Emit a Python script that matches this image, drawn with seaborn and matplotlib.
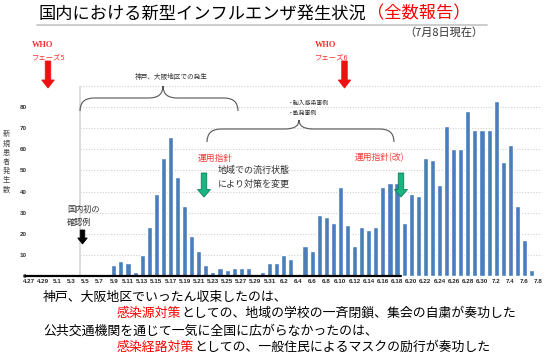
import numpy as np
import pandas as pd
import seaborn as sns
import matplotlib.pyplot as plt
from matplotlib.patches import Polygon, PathPatch
from matplotlib.path import Path
from matplotlib.lines import Line2D

# daily new cases, 4/27 .. 7/8
days = pd.date_range('2009-04-27', '2009-07-08', freq='D')
day_labels = [f'{d.month}.{d.day}' for d in days]
cases = [0, 0, 0, 0, 0, 0, 0, 0, 1, 0, 0, 0,
         5, 7, 6, 2, 10, 23, 39, 56, 66, 47, 33, 19, 12, 5, 2, 4, 3, 4, 4, 4,
         1, 2, 6, 6, 10, 8, 1, 14, 12, 29, 28, 25, 42, 24, 14, 23, 22, 23, 42, 44, 44,
         25, 39, 38, 56, 55, 43, 71, 60, 60, 78, 69, 69, 69, 83, 54, 62, 33, 17, 3, 0]
y_ticks = [0, 10, 20, 30, 40, 50, 60, 70, 80]
grid_levels = [10, 20, 30, 40, 50, 60, 70, 80, 90]

sns.set_style('white')
plt.rcParams['font.family'] = ['Noto Sans CJK JP', 'DejaVu Sans']

W, H = 550, 358
fig = plt.figure(figsize=(W / 100, H / 100), dpi=100)
ax = fig.add_axes([25.3 / W, 1 - 276 / H, 516.9 / W, 190 / H])

df = pd.DataFrame({'day': day_labels, 'cases': cases})
sns.barplot(data=df, x='day', y='cases', color='#4a7ebb', saturation=1,
            width=0.72, ax=ax, zorder=3)

ax.set_xlim(-0.5, len(day_labels) - 0.5)
ax.set_ylim(0, 90)
for s in ax.spines.values():
    s.set_visible(False)
ax.set_xlabel('')
ax.set_ylabel('')
ax.set_xticks(range(0, len(day_labels), 2))
ax.set_xticklabels(day_labels[::2], fontsize=4.5, fontweight='bold',
                   family='Liberation Sans')
ax.set_yticks(y_ticks)
ax.set_yticklabels([str(v) for v in y_ticks], fontsize=4.5, fontweight='bold',
                   family='Liberation Sans', color='#333333')
ax.tick_params(axis='x', length=0, pad=2)
ax.tick_params(axis='y', length=0, pad=-1)

# dotted grid only on the right-hand part, a light divider, thick base line
ax.hlines(grid_levels, 7.2, len(day_labels) - 0.5, colors='#cfcfcf',
          linestyles=(0, (1, 1.5)), lw=0.8, zorder=0)
ax.vlines(7.2, 0, 90, colors='#dddddd', lw=1.5, zorder=0)
ax.plot([-0.5, 52.5], [0, 0], color='black', lw=1.6, clip_on=False, zorder=4)


def fx(x, y):
    return (x / W, 1 - y / H)


def ftext(x, y, s, **kw):
    return fig.text(x / W, 1 - y / H, s, **kw)


def down_arrow(xc, y0, y1, body, head, head_len, fc, ec=None):
    pts = [(xc - body / 2, y0), (xc + body / 2, y0), (xc + body / 2, y1 - head_len),
           (xc + head / 2, y1 - head_len), (xc, y1), (xc - head / 2, y1 - head_len),
           (xc - body / 2, y1 - head_len)]
    fig.add_artist(Polygon([fx(*p) for p in pts], closed=True,
                           transform=fig.transFigure, fc=fc,
                           ec=ec if ec else fc, lw=0.6))


def brace(x0, x1, xm, y_end, y_line, y_peak, r=14):
    verts = [(x0, y_end), (x0, y_line), (x0 + r, y_line), (xm - r, y_line),
             (xm, y_line), (xm, y_peak), (xm, y_line), (xm + r, y_line),
             (x1 - r, y_line), (x1, y_line), (x1, y_end)]
    codes = [Path.MOVETO, Path.CURVE3, Path.CURVE3, Path.LINETO,
             Path.CURVE3, Path.CURVE3, Path.CURVE3, Path.CURVE3,
             Path.LINETO, Path.CURVE3, Path.CURVE3]
    fig.add_artist(PathPatch(Path([fx(*v) for v in verts], codes),
                             transform=fig.transFigure, fc='none',
                             ec='#555555', lw=0.8))


renderer = fig.canvas.get_renderer()


def chain(x, y, parts, size):
    for s, c in parts:
        t = ftext(x, y, s, color=c, fontsize=size, ha='left', va='center')
        x = t.get_window_extent(renderer=renderer).x1


# title
chain(39, 13.5, [('国内における新型インフルエンザ発生状況', 'black'),
                 ('（全数報告）', '#ff0000')], 12.4)
fig.add_artist(Line2D([37 / W, 487 / W], [1 - 25 / H, 1 - 25 / H],
                      color='#c4c4c4', lw=1.2, transform=fig.transFigure))
ftext(483, 33, '（7月8日現在）', fontsize=8, color='#333333', ha='right', va='center')

# WHO phases
for xt, xa, ph in [(32, 48, 'フェーズ5'), (315, 344.5, 'フェーズ6')]:
    ftext(xt, 45, 'WHO', fontsize=6, family='Liberation Serif', fontweight='bold',
          color='#ff3030', ha='left', va='center')
    ftext(xt, 57, ph, fontsize=5.3, color='#ff3030', ha='left', va='center')
    down_arrow(xa, 61, 88, 5.5, 12.5, 8, '#ee1111')

# braces
brace(80, 238, 163, 111, 98, 86)
ftext(171, 77, '神戸、大阪地区での発生', fontsize=4.8, color='#333333', ha='center', va='center')
brace(207, 394, 299, 142, 129, 120)
ftext(288, 103, '・輸入感染事例', fontsize=4.2, color='#333333', ha='left', va='center')
ftext(288, 113, '・散発事例', fontsize=4.2, color='#333333', ha='left', va='center')

# guideline notes
ftext(198, 158, '運用指針', fontsize=6.3, color='#f03c3c', ha='left', va='center')
ftext(355, 158, '運用指針(改)', fontsize=6.3, color='#f03c3c', ha='left', va='center')
down_arrow(204, 173, 197, 5.5, 13, 7.5, '#19b47f', '#0f7f55')
down_arrow(401, 173, 197, 5.5, 13, 7.5, '#19b47f', '#0f7f55')
ftext(218, 170, '地域での流行状態', fontsize=6.5, color='#333333', ha='left', va='center')
ftext(218, 184, 'により対策を変更', fontsize=6.5, color='#333333', ha='left', va='center')

ftext(67, 209, '国内初の', fontsize=5.9, color='#333333', ha='left', va='center')
ftext(67, 222, '確認例', fontsize=5.9, color='#333333', ha='left', va='center')
down_arrow(82.5, 230, 244, 4.5, 9.5, 6, 'black')

ftext(6, 162, '\n'.join('新規患者発生数'), fontsize=5.2, color='#444444',
      ha='center', va='center', linespacing=1.2)

# bottom comments
chain(43, 297, [('神戸、大阪地区でいったん収束したのは、', 'black')], 9.3)
chain(117, 313, [('感染源対策', '#ff0000'),
                 ('としての、地域の学校の一斉閉鎖、集会の自粛が奏功した', 'black')], 9.3)
chain(43, 331, [('公共交通機関を通じて一気に全国に広がらなかったのは、', 'black')], 9.3)
chain(117, 347, [('感染経路対策', '#ff0000'),
                 ('としての、一般住民によるマスクの励行が奏功した', 'black')], 9.3)

fig.savefig('out.png', dpi=100)
